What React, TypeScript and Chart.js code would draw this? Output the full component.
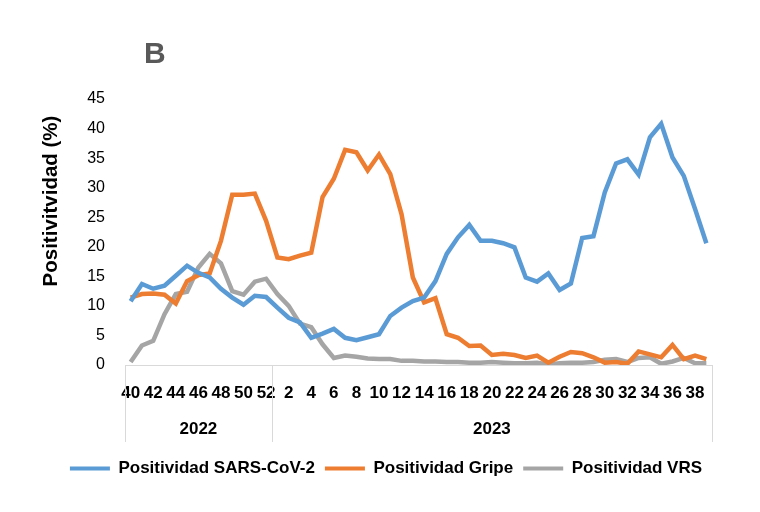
import React, { useEffect, useRef } from 'react';
import { Chart, registerables } from 'chart.js';

Chart.register(...registerables);

// ---- Data ----
const weeks2022 = [40, 41, 42, 43, 44, 45, 46, 47, 48, 49, 50, 51, 52];
const weeks2023 = [
  1, 2, 3, 4, 5, 6, 7, 8, 9, 10, 11, 12, 13, 14, 15, 16, 17, 18, 19, 20,
  21, 22, 23, 24, 25, 26, 27, 28, 29, 30, 31, 32, 33, 34, 35, 36, 37, 38, 39,
];
const weekLabels = [...weeks2022, ...weeks2023].map(String);
const yearLabels = ['2022', '2023'];
const yearCounts = [weeks2022.length, weeks2023.length];

const sarsCov2 = [
  10.8, 13.7, 12.9, 13.4, 15.1, 16.8, 15.6, 14.8, 12.9, 11.4,
  10.2, 11.7, 11.5, 9.7, 8.0, 7.2, 4.6, 5.3, 6.1, 4.6,
  4.2, 4.7, 5.2, 8.3, 9.7, 10.8, 11.4, 14.2, 18.8, 21.6,
  23.7, 21.0, 21.0, 20.6, 19.9, 14.8, 14.1, 15.5, 12.7, 13.8,
  21.5, 21.8, 29.2, 34.1, 34.8, 32.2, 38.5, 40.8, 35.1, 32.0,
  26.4, 20.6,
];
const gripe = [
  11.4, 12.0, 12.1, 11.9, 10.4, 14.2, 15.2, 15.5, 21.0, 28.8,
  28.8, 29.0, 24.4, 18.2, 17.9, 18.5, 19.0, 28.4, 31.5, 36.4,
  36.0, 32.9, 35.6, 32.3, 25.5, 14.8, 10.6, 11.3, 5.2, 4.6,
  3.2, 3.3, 1.7, 1.9, 1.7, 1.2, 1.6, 0.4, 1.4, 2.2,
  2.0, 1.3, 0.4, 0.5, 0.2, 2.3, 1.8, 1.3, 3.4, 1.0,
  1.6, 1.0,
];
const vrs = [
  0.5, 3.3, 4.1, 8.6, 12.0, 12.4, 16.5, 18.8, 17.2, 12.5,
  11.9, 14.1, 14.6, 12.0, 10.0, 7.0, 6.4, 3.5, 1.2, 1.6,
  1.4, 1.1, 1.0, 1.0, 0.7, 0.7, 0.6, 0.6, 0.5, 0.5,
  0.4, 0.4, 0.5, 0.4, 0.3, 0.3, 0.4, 0.1, 0.3, 0.4,
  0.4, 0.5, 0.9, 1.0, 0.5, 1.2, 1.3, 0.2, 0.6, 1.2,
  0.3, 0.3,
];
const yTicks = { min: 0, max: 45, step: 5 };

const seriesNames = ['Positividad SARS-CoV-2', 'Positividad Gripe', 'Positividad VRS'];
const seriesColors = ['#5B9BD5', '#ED7D31', '#A5A5A5'];
const yAxisTitle = 'Positivitvidad (%)';
const panelLetter = 'B';

const FONT = '"Liberation Sans", Arial, sans-serif';
const LEGEND_SHIFT = 30;

const decorPlugin = {
  id: 'decor',
  afterLayout(chart: any) {
    if (chart.legend) {
      chart.legend.left += LEGEND_SHIFT;
      chart.legend.right += LEGEND_SHIFT;
    }
  },
  afterDraw(chart: any) {
    const { ctx, chartArea, scales } = chart;
    const x = scales.x;
    const half = (x.getPixelForValue(1) - x.getPixelForValue(0)) / 2;
    const bounds: number[] = [chartArea.left];
    let idx = 0;
    yearCounts.forEach((c) => {
      idx += c;
      bounds.push(x.getPixelForValue(idx - 1) + half);
    });
    ctx.save();
    ctx.strokeStyle = '#d9d9d9';
    ctx.lineWidth = 1;
    bounds.forEach((b) => {
      const px = Math.round(b) + 0.5;
      ctx.beginPath();
      ctx.moveTo(px, chartArea.bottom);
      ctx.lineTo(px, chartArea.bottom + 77);
      ctx.stroke();
    });
    ctx.fillStyle = '#000';
    ctx.font = `bold 17px ${FONT}`;
    ctx.textAlign = 'center';
    ctx.textBaseline = 'middle';
    yearLabels.forEach((l, i) => {
      ctx.fillText(l, (bounds[i] + bounds[i + 1]) / 2, chartArea.bottom + 64);
    });
    // y axis title
    ctx.save();
    ctx.translate(51, 201);
    ctx.rotate(-Math.PI / 2);
    ctx.font = `bold 20.5px ${FONT}`;
    ctx.fillText(yAxisTitle, 0, 0);
    ctx.restore();
    // panel letter
    ctx.fillStyle = '#595959';
    ctx.font = `bold 30px ${FONT}`;
    ctx.textAlign = 'left';
    ctx.textBaseline = 'alphabetic';
    ctx.fillText(panelLetter, 144, 63);
    ctx.restore();
  },
};

export default function App() {
  const ref = useRef<HTMLCanvasElement>(null);
  useEffect(() => {
    if (!ref.current) return;
    const chart = new Chart(ref.current, {
      type: 'line',
      data: {
        labels: weekLabels,
        datasets: [sarsCov2, gripe, vrs].map((d, i) => ({
          label: seriesNames[i],
          data: d,
          borderColor: seriesColors[i],
          backgroundColor: seriesColors[i],
          borderWidth: 4.5,
          pointRadius: 0,
          tension: 0,
          fill: false,
        })),
      },
      options: {
        responsive: false,
        animation: false,
        layout: { padding: { left: 0, right: 48, top: 99, bottom: 25 } },
        scales: {
          x: {
            offset: true,
            grid: { display: false, drawTicks: false },
            border: { display: true, color: '#d9d9d9', width: 1 },
            ticks: {
              autoSkip: false,
              maxRotation: 0,
              minRotation: 0,
              padding: 18,
              color: '#000',
              font: { family: FONT, size: 17, weight: 'bold' },
              callback: (_v: any, i: number) =>
                Number(weekLabels[i]) % 2 === 0 ? weekLabels[i] : '',
            },
            afterFit: (s: any) => {
              s.height = 85;
            },
          },
          y: {
            min: yTicks.min,
            max: yTicks.max,
            grid: { display: false, drawTicks: false },
            border: { display: false },
            ticks: {
              stepSize: yTicks.step,
              padding: 20,
              color: '#000',
              font: { family: FONT, size: 16 },
            },
            afterFit: (s: any) => {
              s.width = 125;
            },
          },
        },
        plugins: {
          tooltip: { enabled: false },
          legend: {
            position: 'bottom',
            labels: {
              boxWidth: 40,
              boxHeight: 4,
              padding: 10,
              color: '#000',
              font: { family: FONT, size: 17, weight: 'bold' },
              generateLabels: (c: any) =>
                c.data.datasets.map((ds: any, i: number) => ({
                  text: ds.label,
                  fillStyle: ds.borderColor,
                  strokeStyle: ds.borderColor,
                  lineWidth: 0,
                  hidden: false,
                  datasetIndex: i,
                  fontColor: '#000',
                })),
            },
          },
        },
      },
      plugins: [decorPlugin],
    });
    return () => chart.destroy();
  }, []);
  return (
    <div style={{ position: 'fixed', left: 0, top: 0, width: 760, height: 512, background: '#fff' }}>
      <canvas ref={ref} width={760} height={512} style={{ display: 'block' }} />
    </div>
  );
}
